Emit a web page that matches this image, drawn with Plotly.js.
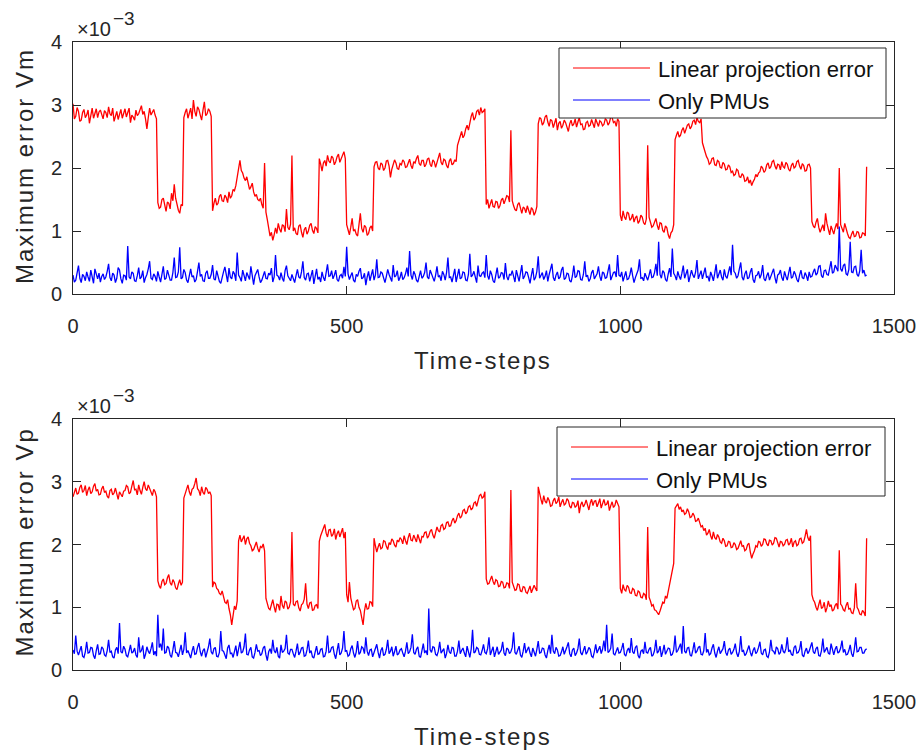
<!DOCTYPE html>
<html><head><meta charset="utf-8">
<script src="https://cdn.plot.ly/plotly-3.0.1.min.js"></script>
<style>
html,body{margin:0;padding:0;background:#fff;}
#chart{width:924px;height:754px;}
g.annotation[data-index="0"] text, g.annotation[data-index="1"] text,
g.annotation[data-index="2"] text, g.annotation[data-index="3"] text {letter-spacing:2px;}
</style></head><body><div id="chart"></div><script>
// sampling grid of the time axis (every 2.5 time-steps, 0..1450)
const timeStep = 2.5;
const seriesNames = ['Linear projection error', 'Only PMUs'];
const yTitles = ['Maximum error Vm', 'Maximum error Vp'];
const xTitle = 'Time-steps';
const xTicks = [0, 500, 1000, 1500];
const yTicks = [0, 1, 2, 3, 4];
// values in units of 1e-3
const vmLinear = [
3.02,2.78,2.82,2.96,2.90,2.74,2.76,2.88,2.93,2.80,2.84,2.92,2.71,2.86,2.95,2.79,2.86,2.94,2.80,2.89,
2.92,2.84,2.78,2.91,2.88,2.80,2.97,2.86,2.83,2.95,2.74,2.82,2.90,2.77,2.85,2.93,2.79,2.87,2.94,2.81,
2.87,2.95,2.72,2.84,2.81,2.76,2.92,2.83,2.86,2.93,2.99,2.85,2.90,2.78,2.62,2.80,2.95,2.84,2.88,2.93,
2.84,2.78,1.45,1.36,1.38,1.50,1.52,1.40,1.31,1.46,1.44,1.35,1.60,1.48,1.74,1.52,1.40,1.33,1.28,1.42,
1.40,2.80,2.88,2.94,2.79,2.86,2.95,2.78,3.08,2.90,2.82,2.97,2.93,2.84,2.76,2.92,3.05,2.83,2.86,2.94,
2.90,2.82,1.32,1.44,1.52,1.41,1.44,1.55,1.58,1.48,1.47,1.57,1.53,1.45,1.62,1.52,1.56,1.66,1.64,1.72,
1.85,1.98,2.12,1.96,1.92,1.84,1.80,1.86,1.74,1.66,1.70,1.76,1.62,1.55,1.58,1.50,1.48,1.52,1.42,1.36,
2.08,1.30,1.18,1.02,0.92,0.98,0.85,0.94,1.05,0.96,1.12,1.03,0.98,1.10,1.08,0.99,1.35,1.06,1.02,1.11,
2.20,1.00,1.05,0.96,0.94,1.08,1.10,0.98,0.90,1.02,1.06,0.95,1.00,1.09,1.12,1.01,0.96,1.07,1.04,0.97,
2.15,2.06,1.95,2.08,2.12,2.03,2.20,2.11,2.08,2.19,2.16,2.05,2.10,2.18,2.22,2.09,2.14,2.21,2.26,2.15,
1.10,1.02,0.94,1.06,1.20,1.00,1.02,0.95,0.92,1.10,1.28,1.04,0.98,1.09,1.06,0.93,0.96,1.05,1.08,1.00,
2.02,2.09,2.10,2.00,1.97,2.08,2.06,1.96,2.00,2.11,2.12,2.03,1.85,1.98,2.04,2.13,2.08,1.99,1.98,2.07,
2.05,2.13,2.10,2.01,2.02,2.09,2.14,2.04,1.99,2.10,2.08,2.15,2.20,2.07,2.04,2.12,2.12,2.02,2.06,2.14,
2.16,2.06,2.02,2.13,2.10,2.01,2.08,2.17,2.24,2.09,2.05,2.14,2.12,2.04,2.00,2.11,2.15,2.05,2.07,2.13,
2.10,2.36,2.45,2.52,2.58,2.48,2.52,2.62,2.68,2.60,2.74,2.82,2.88,2.76,2.80,2.90,2.92,2.84,2.96,2.88,
2.90,2.94,1.42,1.50,1.36,1.44,1.50,1.39,1.38,1.47,1.46,1.36,1.40,1.49,1.52,1.43,1.48,1.56,1.55,1.46,
2.60,1.48,1.40,1.34,1.32,1.42,1.45,1.35,1.28,1.38,1.36,1.29,1.40,1.33,1.26,1.37,1.34,1.25,1.30,1.39,
2.70,2.80,2.78,2.68,2.72,2.81,2.84,2.73,2.66,2.77,2.75,2.64,2.70,2.79,2.60,2.71,2.74,2.63,2.68,2.76,
2.72,2.64,2.58,2.70,2.76,2.67,2.70,2.78,2.65,2.73,2.80,2.69,2.70,2.61,2.62,2.72,2.74,2.66,2.68,2.77,
2.71,2.64,2.78,2.70,2.66,2.75,2.73,2.67,2.69,2.78,2.76,2.68,2.72,2.81,2.80,2.72,2.74,2.66,2.78,2.74,
1.25,1.16,1.32,1.22,1.18,1.30,1.28,1.17,1.20,1.27,1.14,1.21,1.24,1.12,1.16,1.25,1.22,1.13,1.10,1.19,
2.36,1.22,1.15,1.06,1.08,1.16,1.20,1.09,1.02,1.13,1.12,1.01,0.98,1.08,1.05,0.94,0.88,0.97,1.00,1.10,
2.45,2.52,2.58,2.49,2.52,2.60,2.64,2.55,2.60,2.68,2.70,2.62,2.66,2.74,2.76,2.69,2.80,2.74,2.72,2.78,
2.40,2.30,2.25,2.18,2.14,2.06,2.08,2.15,2.16,2.05,2.04,2.12,2.10,2.01,2.00,2.09,2.06,1.97,1.98,2.05,
2.02,1.93,1.95,1.88,1.90,1.98,1.96,1.86,1.85,1.91,1.88,1.79,1.80,1.86,1.76,1.81,1.72,1.78,1.82,1.90,
1.86,1.92,1.94,2.03,2.00,1.93,1.96,2.05,2.08,1.99,2.02,2.10,2.12,2.03,1.98,2.06,2.05,1.97,2.10,2.02,
2.00,2.09,2.06,1.98,1.95,2.04,2.08,2.00,2.02,2.10,2.12,2.03,1.98,2.07,2.04,1.95,1.96,2.05,2.06,2.00,
1.15,1.08,1.05,1.14,1.20,1.06,0.98,1.04,1.10,1.00,1.28,1.12,1.02,0.94,1.08,1.00,0.95,1.05,1.12,1.03,
2.00,1.10,1.04,0.98,1.12,1.02,0.96,0.90,0.88,0.95,1.00,0.91,0.92,0.99,0.98,0.89,0.90,0.97,0.96,0.92,
2.02];
const vmPmu = [
0.30,0.19,0.22,0.34,0.45,0.25,0.18,0.31,0.28,0.21,0.35,0.27,0.20,0.38,0.26,0.17,0.40,0.29,0.24,0.33,
0.19,0.28,0.32,0.23,0.27,0.36,0.48,0.26,0.21,0.33,0.30,0.18,0.25,0.42,0.38,0.24,0.17,0.30,0.29,0.22,
0.76,0.27,0.24,0.35,0.33,0.21,0.20,0.29,0.42,0.24,0.27,0.37,0.18,0.26,0.31,0.40,0.52,0.25,0.23,0.32,
0.28,0.20,0.36,0.27,0.19,0.31,0.44,0.23,0.25,0.38,0.30,0.22,0.22,0.34,0.58,0.26,0.27,0.35,0.74,0.24,
0.26,0.39,0.34,0.22,0.18,0.30,0.40,0.27,0.29,0.19,0.23,0.36,0.50,0.28,0.31,0.21,0.20,0.33,0.37,0.25,
0.25,0.31,0.46,0.24,0.22,0.37,0.30,0.20,0.17,0.28,0.35,0.43,0.28,0.19,0.41,0.27,0.24,0.36,0.32,0.21,
0.66,0.30,0.26,0.20,0.38,0.28,0.21,0.34,0.29,0.23,0.44,0.26,0.15,0.29,0.33,0.39,0.27,0.18,0.22,0.31,
0.36,0.25,0.24,0.33,0.30,0.41,0.19,0.27,0.62,0.30,0.28,0.22,0.34,0.25,0.20,0.37,0.45,0.29,0.26,0.21,
0.31,0.24,0.18,0.29,0.39,0.27,0.25,0.35,0.52,0.26,0.22,0.32,0.33,0.20,0.28,0.38,0.16,0.27,0.40,0.23,
0.27,0.19,0.35,0.26,0.21,0.34,0.47,0.28,0.29,0.37,0.24,0.30,0.38,0.23,0.20,0.29,0.31,0.25,0.43,0.28,
0.75,0.32,0.23,0.29,0.34,0.22,0.19,0.31,0.28,0.36,0.41,0.24,0.26,0.33,0.14,0.27,0.36,0.21,0.30,0.39,
0.22,0.30,0.55,0.26,0.27,0.35,0.33,0.24,0.18,0.28,0.39,0.31,0.25,0.20,0.46,0.27,0.29,0.37,0.21,0.26,
0.35,0.23,0.26,0.32,0.42,0.28,0.68,0.30,0.23,0.36,0.31,0.22,0.19,0.29,0.37,0.25,0.28,0.34,0.50,0.27,
0.24,0.38,0.33,0.25,0.20,0.30,0.44,0.27,0.29,0.21,0.36,0.31,0.22,0.34,0.58,0.26,0.27,0.19,0.32,0.40,
0.19,0.28,0.40,0.24,0.26,0.35,0.34,0.22,0.21,0.31,0.64,0.27,0.30,0.36,0.24,0.18,0.45,0.29,0.28,0.33,
0.35,0.26,0.62,0.29,0.23,0.37,0.31,0.21,0.18,0.30,0.42,0.25,0.27,0.34,0.33,0.23,0.49,0.28,0.22,0.31,
0.30,0.37,0.25,0.19,0.38,0.29,0.20,0.33,0.46,0.24,0.28,0.35,0.34,0.26,0.17,0.30,0.41,0.22,0.26,0.36,
0.60,0.25,0.29,0.34,0.23,0.28,0.37,0.20,0.31,0.39,0.48,0.26,0.21,0.30,0.35,0.24,0.27,0.38,0.43,0.23,
0.25,0.33,0.32,0.21,0.19,0.29,0.45,0.26,0.28,0.37,0.36,0.23,0.22,0.31,0.52,0.27,0.30,0.20,0.24,0.34,
0.38,0.24,0.27,0.32,0.44,0.28,0.21,0.35,0.33,0.25,0.26,0.39,0.47,0.22,0.29,0.34,0.35,0.27,0.62,0.30,
0.28,0.35,0.20,0.27,0.36,0.23,0.24,0.31,0.42,0.29,0.18,0.26,0.31,0.38,0.55,0.25,0.26,0.21,0.33,0.28,
0.22,0.30,0.39,0.26,0.27,0.34,0.48,0.29,0.83,0.31,0.25,0.37,0.34,0.23,0.20,0.32,0.41,0.27,0.72,0.33,
0.29,0.22,0.36,0.28,0.23,0.33,0.45,0.25,0.31,0.39,0.19,0.27,0.38,0.30,0.26,0.35,0.54,0.24,0.30,0.37,
0.24,0.31,0.42,0.26,0.28,0.20,0.35,0.29,0.21,0.33,0.47,0.25,0.32,0.38,0.27,0.22,0.39,0.28,0.25,0.34,
0.44,0.30,0.78,0.36,0.33,0.25,0.29,0.40,0.50,0.27,0.22,0.32,0.37,0.24,0.26,0.35,0.41,0.23,0.18,0.29,
0.30,0.36,0.25,0.31,0.46,0.24,0.21,0.29,0.34,0.22,0.28,0.37,0.40,0.26,0.17,0.30,0.32,0.38,0.26,0.21,
0.36,0.28,0.22,0.33,0.43,0.25,0.27,0.36,0.31,0.23,0.19,0.30,0.38,0.26,0.24,0.34,0.29,0.21,0.35,0.27,
0.28,0.35,0.40,0.30,0.33,0.44,0.45,0.29,0.26,0.37,0.38,0.31,0.30,0.41,0.52,0.33,0.35,0.46,0.42,0.36,
1.07,0.40,0.36,0.45,0.48,0.32,0.30,0.39,0.83,0.35,0.34,0.43,0.44,0.31,0.28,0.37,0.70,0.33,0.38,0.29,
0.30];
const vpLinear = [
2.76,2.84,2.90,2.80,2.82,2.91,2.95,2.83,2.86,2.94,2.78,2.87,2.92,2.81,2.84,2.93,2.97,2.85,2.88,2.79,
2.80,2.89,2.93,2.83,2.85,2.77,2.74,2.86,2.88,2.79,2.82,2.90,2.78,2.72,2.84,2.80,2.76,2.85,2.86,2.94,
2.92,2.81,2.83,2.93,3.02,2.87,2.88,2.79,2.95,2.86,2.80,2.91,3.00,2.89,2.86,2.95,2.90,2.82,2.78,2.88,
2.84,2.76,1.42,1.34,1.30,1.41,1.45,1.36,1.38,1.47,1.52,1.39,1.35,1.44,1.40,1.31,1.28,1.37,1.44,1.35,
1.40,2.74,2.82,2.90,2.95,2.84,2.78,2.88,2.90,2.97,3.06,2.89,2.86,2.78,2.92,2.83,2.80,2.91,2.88,2.81,
2.84,2.78,1.32,1.40,1.38,1.30,1.28,1.22,1.20,1.26,1.16,1.08,1.06,1.12,0.98,0.88,0.72,0.90,1.02,0.96,
1.10,2.06,2.15,2.04,2.08,2.14,2.00,2.09,2.12,2.02,1.98,1.90,1.92,2.00,2.04,1.94,1.88,1.97,1.95,2.01,
1.90,1.14,1.06,0.98,0.96,1.07,1.12,1.01,0.92,1.05,1.04,0.95,1.18,1.03,0.98,1.10,1.08,0.97,1.00,1.09,
2.20,1.05,1.02,1.09,1.10,0.99,0.94,1.04,1.06,1.13,1.38,1.05,0.98,1.07,1.08,0.95,0.96,1.03,1.04,0.98,
2.05,2.14,2.20,2.27,2.32,2.18,2.12,2.23,2.24,2.13,2.16,2.25,2.08,2.17,2.22,2.12,2.18,2.26,2.10,2.20,
1.20,1.08,1.40,1.15,1.05,0.96,0.98,1.10,1.12,1.00,0.95,0.86,0.72,0.94,1.06,0.97,0.98,1.09,1.08,1.01,
2.10,1.98,1.88,1.96,2.02,1.93,1.95,2.06,2.05,1.97,1.92,2.03,2.00,2.09,2.06,1.99,1.96,2.07,2.04,2.11,
2.08,2.01,2.14,2.06,2.00,2.11,2.18,2.07,2.06,2.15,2.10,2.04,2.16,2.09,2.02,2.13,2.12,2.19,2.20,2.10,
2.14,2.21,2.24,2.15,2.10,2.19,2.28,2.22,2.20,2.30,2.32,2.24,2.26,2.35,2.36,2.29,2.30,2.38,2.42,2.34,
2.38,2.46,2.50,2.42,2.45,2.54,2.56,2.49,2.52,2.60,2.62,2.55,2.58,2.66,2.68,2.61,2.72,2.78,2.80,2.74,
2.76,2.84,1.45,1.37,1.38,1.46,1.50,1.41,1.36,1.44,1.42,1.33,1.34,1.41,1.40,1.31,1.32,1.39,1.38,1.30,
2.87,1.40,1.35,1.27,1.28,1.37,1.36,1.26,1.25,1.33,1.32,1.24,1.22,1.30,1.34,1.23,1.28,1.35,1.30,1.26,
2.92,2.80,2.72,2.64,2.78,2.69,2.66,2.75,2.70,2.61,2.62,2.70,2.74,2.65,2.68,2.76,2.60,2.67,2.72,2.63,
2.65,2.73,2.70,2.61,2.58,2.67,2.66,2.59,2.62,2.70,2.50,2.63,2.68,2.60,2.64,2.71,2.60,2.55,2.66,2.72,
2.62,2.69,2.70,2.60,2.66,2.73,2.58,2.65,2.72,2.63,2.64,2.70,2.54,2.62,2.68,2.59,2.62,2.71,2.66,2.60,
1.30,1.22,1.36,1.28,1.26,1.35,1.32,1.23,1.22,1.30,1.28,1.19,1.18,1.26,1.24,1.16,1.15,1.22,1.20,1.12,
2.28,1.16,1.10,1.02,1.04,0.96,0.95,0.90,0.88,0.94,1.00,1.08,1.06,1.18,1.14,1.26,1.40,1.52,1.62,1.70,
2.58,2.63,2.65,2.56,2.60,2.52,2.55,2.48,2.50,2.57,2.52,2.43,2.44,2.50,2.46,2.37,2.38,2.42,2.34,2.28,
2.30,2.22,2.26,2.15,2.18,2.24,2.14,2.08,2.20,2.11,2.08,2.16,2.12,2.04,2.02,2.10,2.06,1.97,1.98,2.05,
2.04,1.95,1.96,2.03,2.00,1.92,1.94,2.01,2.06,1.97,1.98,1.90,1.92,2.00,2.02,1.88,1.78,1.85,1.90,1.98,
1.96,2.05,2.04,1.97,2.00,2.09,2.08,2.01,1.98,2.07,2.06,1.99,2.02,2.11,2.10,2.03,1.96,2.05,2.04,1.98,
2.00,2.07,2.08,1.99,2.02,2.10,1.96,2.04,2.06,1.98,2.00,2.09,2.10,2.02,2.04,2.13,2.24,2.11,2.06,2.14,
1.20,1.12,1.08,1.00,0.95,1.04,1.12,0.98,1.00,1.08,0.92,0.99,1.10,1.01,1.04,0.94,0.96,1.03,1.06,0.97,
1.91,1.05,1.02,0.96,0.94,1.03,1.08,0.97,0.98,0.91,0.90,0.99,1.38,1.00,0.96,0.89,0.88,0.95,0.92,0.86,
2.10];
const vpPmu = [
0.32,0.26,0.55,0.30,0.24,0.33,0.38,0.22,0.20,0.29,0.45,0.27,0.28,0.36,0.35,0.23,0.18,0.31,0.41,0.25,
0.26,0.37,0.34,0.24,0.22,0.31,0.48,0.28,0.30,0.21,0.19,0.32,0.36,0.26,0.75,0.29,0.27,0.38,0.33,0.23,
0.21,0.30,0.40,0.27,0.29,0.35,0.24,0.20,0.52,0.28,0.31,0.39,0.18,0.25,0.37,0.30,0.26,0.34,0.44,0.24,
0.30,0.22,0.88,0.36,0.42,0.31,0.66,0.27,0.28,0.38,0.35,0.24,0.20,0.32,0.46,0.28,0.27,0.21,0.33,0.40,
0.24,0.33,0.60,0.27,0.31,0.23,0.19,0.30,0.38,0.25,0.26,0.36,0.43,0.29,0.22,0.31,0.34,0.20,0.28,0.37,
0.50,0.29,0.25,0.34,0.36,0.22,0.21,0.28,0.62,0.31,0.30,0.24,0.18,0.35,0.40,0.26,0.27,0.20,0.33,0.39,
0.22,0.31,0.45,0.27,0.29,0.37,0.58,0.25,0.24,0.32,0.36,0.21,0.19,0.28,0.41,0.30,0.31,0.23,0.26,0.35,
0.38,0.24,0.15,0.29,0.34,0.26,0.48,0.31,0.27,0.36,0.22,0.19,0.40,0.28,0.30,0.34,0.56,0.27,0.25,0.33,
0.33,0.26,0.20,0.30,0.42,0.24,0.28,0.35,0.36,0.22,0.23,0.32,0.47,0.27,0.31,0.21,0.19,0.29,0.38,0.25,
0.26,0.33,0.34,0.21,0.22,0.30,0.55,0.28,0.29,0.36,0.37,0.25,0.18,0.31,0.43,0.24,0.27,0.35,0.62,0.30,
0.31,0.22,0.24,0.34,0.39,0.27,0.20,0.29,0.46,0.25,0.28,0.37,0.35,0.26,0.52,0.30,0.23,0.32,0.33,0.21,
0.27,0.35,0.41,0.28,0.19,0.31,0.36,0.23,0.25,0.33,0.48,0.26,0.30,0.37,0.22,0.29,0.38,0.24,0.26,0.32,
0.34,0.27,0.21,0.30,0.44,0.26,0.29,0.36,0.57,0.28,0.25,0.33,0.37,0.22,0.20,0.31,0.42,0.27,0.31,0.24,
0.98,0.32,0.28,0.37,0.36,0.25,0.23,0.30,0.45,0.27,0.30,0.34,0.19,0.26,0.40,0.29,0.26,0.36,0.35,0.22,
0.22,0.30,0.47,0.26,0.31,0.35,0.27,0.21,0.38,0.29,0.20,0.33,0.64,0.27,0.29,0.36,0.34,0.25,0.24,0.31,
0.41,0.28,0.26,0.34,0.52,0.24,0.30,0.37,0.21,0.29,0.37,0.25,0.28,0.32,0.45,0.27,0.23,0.35,0.33,0.26,
0.29,0.36,0.60,0.28,0.25,0.32,0.38,0.24,0.20,0.30,0.43,0.27,0.31,0.37,0.27,0.21,0.35,0.29,0.22,0.33,
0.46,0.27,0.28,0.35,0.34,0.24,0.19,0.31,0.40,0.26,0.56,0.30,0.26,0.36,0.32,0.22,0.23,0.29,0.37,0.25,
0.30,0.37,0.44,0.26,0.21,0.32,0.35,0.23,0.27,0.34,0.50,0.28,0.24,0.31,0.38,0.25,0.29,0.36,0.33,0.22,
0.20,0.29,0.41,0.27,0.32,0.38,0.26,0.33,0.47,0.30,0.72,0.28,0.30,0.35,0.58,0.26,0.24,0.31,0.36,0.27,
0.28,0.34,0.43,0.25,0.22,0.31,0.35,0.27,0.51,0.29,0.26,0.36,0.39,0.23,0.19,0.30,0.32,0.26,0.45,0.28,
0.27,0.33,0.36,0.22,0.24,0.31,0.48,0.27,0.30,0.38,0.21,0.29,0.40,0.25,0.29,0.35,0.34,0.23,0.25,0.32,
0.55,0.28,0.31,0.37,0.42,0.26,0.70,0.30,0.27,0.35,0.36,0.24,0.22,0.32,0.44,0.27,0.30,0.36,0.38,0.25,
0.24,0.31,0.59,0.28,0.33,0.24,0.26,0.35,0.41,0.27,0.20,0.30,0.37,0.26,0.29,0.34,0.46,0.28,0.23,0.32,
0.35,0.25,0.28,0.33,0.42,0.27,0.21,0.30,0.54,0.29,0.31,0.23,0.26,0.34,0.39,0.28,0.22,0.31,0.36,0.26,
0.29,0.36,0.45,0.27,0.24,0.32,0.33,0.22,0.20,0.29,0.48,0.31,0.30,0.25,0.37,0.34,0.25,0.28,0.41,0.30,
0.27,0.34,0.52,0.29,0.32,0.25,0.23,0.36,0.39,0.27,0.28,0.33,0.46,0.24,0.21,0.30,0.35,0.26,0.30,0.37,
0.44,0.29,0.26,0.34,0.37,0.23,0.22,0.31,0.50,0.28,0.31,0.36,0.27,0.25,0.42,0.30,0.24,0.33,0.38,0.27,
0.29,0.35,0.47,0.28,0.33,0.24,0.25,0.31,0.40,0.26,0.21,0.33,0.52,0.29,0.30,0.36,0.36,0.27,0.27,0.32,
0.34];

const W = 924, H = 754;
const FONT = '"Liberation Sans", Arial, Helvetica, sans-serif';
const AX = '#262626';
const COLORS = ['#ff0000', '#0000ff'];
const LINE_W = 1.3;
const px = v => v / W;
const py = v => 1 - v / H;

const xs = vmLinear.map((_, i) => i * timeStep);

const traces = [
  {x: xs, y: vmLinear, xaxis: 'x', yaxis: 'y', name: seriesNames[0], type: 'scatter', mode: 'lines', line: {color: COLORS[0], width: LINE_W}},
  {x: xs, y: vmPmu, xaxis: 'x', yaxis: 'y', name: seriesNames[1], type: 'scatter', mode: 'lines', line: {color: COLORS[1], width: LINE_W}},
  {x: xs, y: vpLinear, xaxis: 'x2', yaxis: 'y2', name: seriesNames[0], type: 'scatter', mode: 'lines', line: {color: COLORS[0], width: LINE_W}},
  {x: xs, y: vpPmu, xaxis: 'x2', yaxis: 'y2', name: seriesNames[1], type: 'scatter', mode: 'lines', line: {color: COLORS[1], width: LINE_W}}
];

// pixel geometry of the two panels
const plotL = 73, plotR = 894;
const panels = [{top: 42, bottom: 294}, {top: 419, bottom: 670}];

function axStyle(extra) {
  return Object.assign({
    showline: true, mirror: 'allticks', linecolor: AX, linewidth: 1,
    ticks: 'inside', ticklen: 8, tickwidth: 1, tickcolor: AX,
    showgrid: false, zeroline: false, fixedrange: true,
    tickfont: {family: FONT, size: 20, color: AX}
  }, extra);
}

const layout = {
  width: W, height: H,
  margin: {l: 0, r: 0, t: 0, b: 0},
  paper_bgcolor: '#fff', plot_bgcolor: '#fff',
  showlegend: false,
  font: {family: FONT, color: AX},
  xaxis: axStyle({domain: [px(plotL), px(plotR)], range: [0, 1500], tickmode: 'array', tickvals: xTicks, anchor: 'y', ticklabelstandoff: 14}),
  yaxis: axStyle({domain: [py(panels[0].bottom), py(panels[0].top)], range: [0, 4], tickmode: 'array', tickvals: yTicks, anchor: 'x', ticklabelstandoff: 6}),
  xaxis2: axStyle({domain: [px(plotL), px(plotR)], range: [0, 1500], tickmode: 'array', tickvals: xTicks, anchor: 'y2', ticklabelstandoff: 14}),
  yaxis2: axStyle({domain: [py(panels[1].bottom), py(panels[1].top)], range: [0, 4], tickmode: 'array', tickvals: yTicks, anchor: 'x2', ticklabelstandoff: 6}),
  annotations: [],
  shapes: []
};

const titleFont = {family: FONT, size: 24, color: AX};
// axis titles (annotation indices 0..3)
panels.forEach((p, k) => {
  layout.annotations.push({xref: 'paper', yref: 'paper', x: px((plotL + plotR) / 2), y: py(p.bottom + 66),
    xanchor: 'center', yanchor: 'middle', text: xTitle, showarrow: false, font: titleFont});
  layout.annotations.push({xref: 'paper', yref: 'paper', x: px(24), y: py((p.top + p.bottom) / 2 - 2),
    xanchor: 'center', yanchor: 'middle', textangle: -90, text: yTitles[k], showarrow: false, font: titleFont});
});
// exponent labels
panels.forEach(p => {
  layout.annotations.push({xref: 'paper', yref: 'paper', x: px(75), y: py(p.top - 13),
    xanchor: 'left', yanchor: 'middle', text: '×10', showarrow: false, font: {family: FONT, size: 20, color: AX}});
  layout.annotations.push({xref: 'paper', yref: 'paper', x: px(111), y: py(p.top - 23),
    xanchor: 'left', yanchor: 'middle', text: '\u22123', showarrow: false, font: {family: FONT, size: 19, color: AX}});
});
// legends drawn as boxes, sample lines and labels
const legendBoxes = [{l: 559, r: 886, t: 48, b: 118}, {l: 557, r: 885, t: 427, b: 496}];
legendBoxes.forEach(b => {
  layout.shapes.push({type: 'rect', xref: 'paper', yref: 'paper', layer: 'above',
    x0: px(b.l), x1: px(b.r), y0: py(b.b), y1: py(b.t), fillcolor: '#fff', line: {color: AX, width: 1}});
  seriesNames.forEach((name, i) => {
    const yc = b.t + 20 + i * 32;
    layout.shapes.push({type: 'line', xref: 'paper', yref: 'paper', layer: 'above',
      x0: px(b.l + 14), x1: px(b.l + 91), y0: py(yc), y1: py(yc), line: {color: COLORS[i], width: 1}});
    layout.annotations.push({xref: 'paper', yref: 'paper', x: px(b.l + 97), y: py(yc + 1),
      xanchor: 'left', yanchor: 'middle', text: name, showarrow: false, font: {family: FONT, size: 22, color: '#111'}});
  });
});

Plotly.newPlot('chart', traces, layout, {staticPlot: true, displayModeBar: false});
</script></body></html>
